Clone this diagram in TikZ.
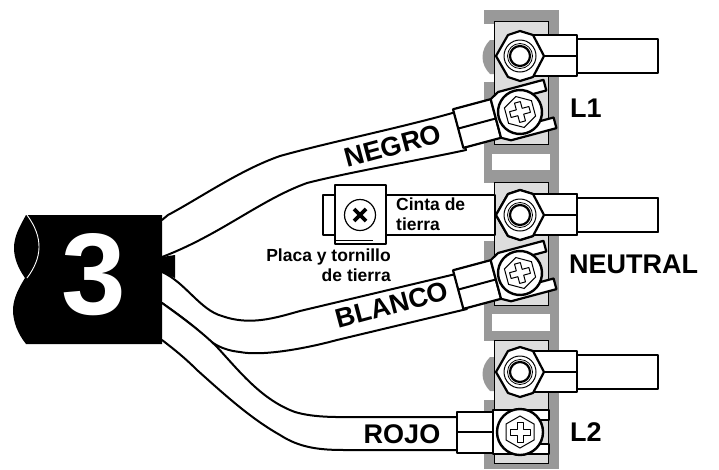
\documentclass[tikz,border=0pt]{standalone}
\usepackage{fontspec}
\setmainfont{Liberation Sans}
\definecolor{stripgray}{HTML}{999999}
\definecolor{plategray}{HTML}{DDDDDD}
\tikzset{
  x=1pt,y=-1pt,
  wire/.style={draw=black,line width=2pt,line cap=round,line join=round},
  boxline/.style={draw=black,fill=white,line width=2.2pt,line join=round},
  thin line/.style={draw=black,line width=1pt},
  lbl/.style={font=\bfseries\fontsize{27}{27}\selectfont,inner sep=0pt,text=black},
  small lbl/.style={font=\bfseries\fontsize{17.5}{20}\selectfont,inner sep=0pt,text=black,align=center},
}
\newcommand{\stud}[1]{%
  \begin{scope}[shift={(0,#1)}]
    \path[boxline] (577,-17) rectangle (658,17);
    \path[boxline] (520,-21) rectangle (577,20);
    \draw[line width=2pt] (540,0) -- (577,0);
    \path[boxline] (496,0) -- (508,-21) -- (520,-25) -- (533,-21) -- (544,0) -- (533,21) -- (520,25) -- (508,21) -- cycle;
    \draw[line width=1pt,fill=white] (520,0) circle (16);
    \draw[line width=0.8pt] (520,0) circle (12.5);
    \draw[line width=2.2pt] (520,0) circle (10);
  \end{scope}}
\newcommand{\phillips}{%
  \draw[line width=1pt,fill=white] (-14,-8) -- (0,-16) -- (14,-8) -- (14,8) -- (0,16) -- (-14,8) -- cycle;
  \draw[line width=1pt,line join=round] (-3,-10) -- (3,-10) -- (3,-3) -- (10,-3) -- (10,3) -- (3,3) -- (3,10) -- (-3,10) -- (-3,3) -- (-10,3) -- (-10,-3) -- (-3,-3) -- cycle;}
\newcommand{\anglelug}{%
  \path[boxline] (-64,-20) rectangle (-25,20);
  \draw[line width=2pt] (-64,0) -- (-25,0);
  \path[boxline] (-25,-20) -- (-16,-25) -- (31,-25) -- (31,-14) -- (14,-14) -- (14,14) -- (31,14) -- (31,25) -- (-16,25) -- (-25,20) -- cycle;
  \draw[line width=2.4pt,fill=white] (0,0) circle (22);
  \phillips}
\begin{document}
\begin{tikzpicture}
\useasboundingbox (0,0) rectangle (719,469);
% terminal strip
\fill[stripgray] (484,10) rectangle (559,469);
\fill[white] (492,154) rectangle (550,170);
\fill[white] (492,314) rectangle (550,331);
\fill[white] (484,24) rectangle (494,82);
\fill[white] (484,183) rectangle (494,241);
\fill[white] (484,341) rectangle (494,400);
\fill[stripgray] (490,40) .. controls (480,50) and (480,64) .. (490,74) -- (494,74) -- (494,40) -- cycle;
\fill[stripgray] (490,199) .. controls (480,209) and (480,223) .. (490,233) -- (494,233) -- (494,199) -- cycle;
\fill[stripgray] (490,357) .. controls (480,367) and (480,381) .. (490,391) -- (494,391) -- (494,357) -- cycle;
\foreach \yy in {21,182,340}{
  \draw[fill=plategray,line width=0.8pt] (494,\yy) rectangle (548,\yy+123);
}
% wires
\path[wire,fill=white] (162,220) -- (168,215) .. controls (200,198) and (240,170) .. (280,156) .. controls (330,142) and (400,128) .. (456,112) -- (466,150) .. controls (420,160) and (350,172) .. (307,183) .. controls (260,200) and (220,235) .. (162,257);
\path[wire,fill=white] (162,272) .. controls (185,282) and (200,310) .. (222,316) .. controls (250,326) and (275,318) .. (300,311) -- (460,273) -- (467,309) -- (337,340) .. controls (300,350) and (260,356) .. (240,352) .. controls (222,350) and (212,344) .. (200,332) .. controls (190,323) and (175,312) .. (162,303);
\path[wire,fill=white] (162,303) .. controls (190,323) and (205,335) .. (217,347) .. controls (240,372) and (262,400) .. (295,412) .. controls (315,418) and (340,417) .. (360,417) -- (457,417) -- (457,450) -- (345,450) .. controls (320,450) and (300,448) .. (280,435) .. controls (250,418) and (225,395) .. (197,370) .. controls (185,358) and (175,350) .. (162,340);
% cable
\fill[black] (162,257) -- (175,255) -- (175,278) -- (162,272) -- cycle;
\fill[black] (26,215) -- (162,215) -- (162,344) -- (26,344) .. controls (18,334) and (13,322) .. (13,310) .. controls (13,298) and (20,286) .. (25,278) .. controls (18,268) and (14,258) .. (14,248) .. controls (14,236) and (20,226) .. (26,215) -- cycle;
\draw[white,line width=0.9pt] (27,215) .. controls (44,238) and (42,258) .. (27,278);
\node[inner sep=0pt,text=white,font=\bfseries\fontsize{116}{116}\selectfont] (three) at (94,275) {3};
% studs
\stud{56}\stud{215}\stud{372}
% ground strap
\path[boxline] (323,195) rectangle (495,235);
\stud{215}
\path[draw=black,line width=1.5pt,fill=white] (495,205) -- (495,225);
\path[boxline] (335,185) rectangle (386,244);
\draw[line width=1pt] (335,240) -- (373,240);
\draw[line width=1.2pt] (360,215) circle (15.5);
\draw[line width=3.6pt] (354,209) -- (366,221) (366,209) -- (354,221);
\node[small lbl,anchor=west,align=left] (cinta) at (396,214) {Cinta de\\tierra};
\node[small lbl,anchor=east,align=right] (placa) at (391,265.5) {Placa y tornillo\\de tierra};
% screws and lugs
\begin{scope}[shift={(520,112)},rotate=15]\anglelug\end{scope}
\begin{scope}[shift={(520,273)},rotate=15]\anglelug\end{scope}
\begin{scope}[shift={(520,432)}]
  \path[boxline] (-63,-20) rectangle (-27,21);
  \draw[line width=2pt] (-63,0) -- (-27,0);
  \path[boxline] (-27,-22) -- (29,-22) -- (29,-12) -- (15,-12) -- (15,12) -- (29,12) -- (29,22) -- (-27,22) -- cycle;
  \draw[line width=2.4pt,fill=white] (0,0) circle (23);
  \phillips
\end{scope}
% labels
\node[lbl,rotate=15] (negro) at (393,146) {NEGRO};
\node[lbl,rotate=15] (blanco) at (392,305) {BLANCO};
\node[lbl] (rojo) at (402,434) {ROJO};
\node[lbl,anchor=west] (l1) at (570,108) {L1};
\node[lbl,anchor=west] (neutral) at (569,264) {NEUTRAL};
\node[lbl,anchor=west] (l2) at (570,432) {L2};
\end{tikzpicture}
\end{document}
